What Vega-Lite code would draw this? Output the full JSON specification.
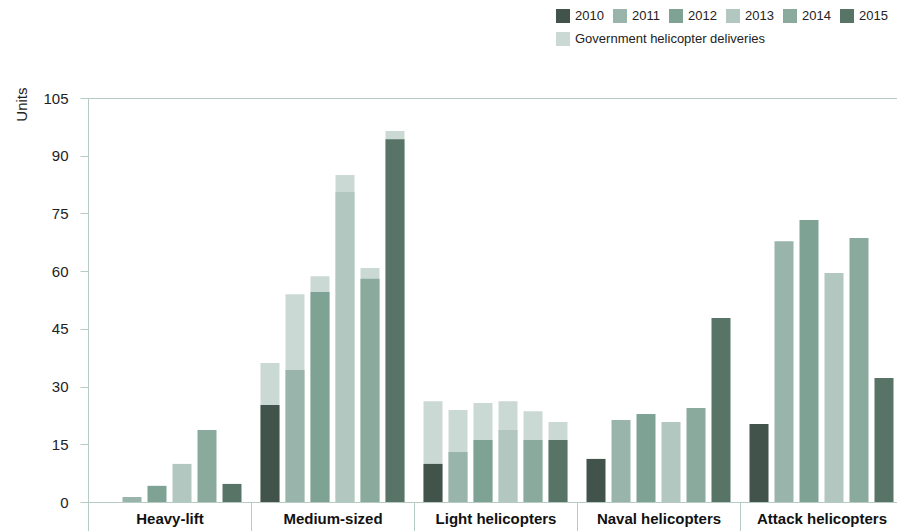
{
  "$schema": "https://vega.github.io/schema/vega-lite/v6.json",
  "width": 815,
  "height": 404,
  "autosize": {"type": "none"},
  "padding": {"left": 88, "top": 98, "right": 0, "bottom": 29},
  "config": {
    "font": "Liberation Sans",
    "view": {"stroke": "#b5cbc3", "strokeWidth": 1}
  },
  "data": {
    "values": [
      {"category": "Heavy-lift", "year": "2010", "value": 0, "total": null},
      {"category": "Heavy-lift", "year": "2011", "value": 1.3, "total": null},
      {"category": "Heavy-lift", "year": "2012", "value": 4.2, "total": null},
      {"category": "Heavy-lift", "year": "2013", "value": 9.9, "total": null},
      {"category": "Heavy-lift", "year": "2014", "value": 18.7, "total": null},
      {"category": "Heavy-lift", "year": "2015", "value": 4.7, "total": null},
      {"category": "Medium-sized", "year": "2010", "value": 25.2, "total": 36.1},
      {"category": "Medium-sized", "year": "2011", "value": 34.3, "total": 54.0},
      {"category": "Medium-sized", "year": "2012", "value": 54.6, "total": 58.7},
      {"category": "Medium-sized", "year": "2013", "value": 80.6, "total": 85.0},
      {"category": "Medium-sized", "year": "2014", "value": 58.0, "total": 60.8},
      {"category": "Medium-sized", "year": "2015", "value": 94.3, "total": 96.4},
      {"category": "Light helicopters", "year": "2010", "value": 9.9, "total": 26.2},
      {"category": "Light helicopters", "year": "2011", "value": 13.0, "total": 23.9},
      {"category": "Light helicopters", "year": "2012", "value": 16.1, "total": 25.7},
      {"category": "Light helicopters", "year": "2013", "value": 18.7, "total": 26.2},
      {"category": "Light helicopters", "year": "2014", "value": 16.1, "total": 23.6},
      {"category": "Light helicopters", "year": "2015", "value": 16.1, "total": 20.8},
      {"category": "Naval helicopters", "year": "2010", "value": 11.2, "total": null},
      {"category": "Naval helicopters", "year": "2011", "value": 21.3, "total": null},
      {"category": "Naval helicopters", "year": "2012", "value": 22.9, "total": null},
      {"category": "Naval helicopters", "year": "2013", "value": 20.8, "total": null},
      {"category": "Naval helicopters", "year": "2014", "value": 24.4, "total": null},
      {"category": "Naval helicopters", "year": "2015", "value": 47.8, "total": null},
      {"category": "Attack helicopters", "year": "2010", "value": 20.3, "total": null},
      {"category": "Attack helicopters", "year": "2011", "value": 67.8, "total": null},
      {"category": "Attack helicopters", "year": "2012", "value": 73.3, "total": null},
      {"category": "Attack helicopters", "year": "2013", "value": 59.5, "total": null},
      {"category": "Attack helicopters", "year": "2014", "value": 68.6, "total": null},
      {"category": "Attack helicopters", "year": "2015", "value": 32.2, "total": null}
    ]
  },
  "encoding": {
    "x": {
      "field": "category",
      "type": "nominal",
      "sort": ["Heavy-lift", "Medium-sized", "Light helicopters", "Naval helicopters", "Attack helicopters"],
      "scale": {"paddingInner": 0, "paddingOuter": 0},
      "axis": {
        "title": null,
        "labelAngle": 0,
        "labelFontSize": 15,
        "labelFontWeight": "bold",
        "labelColor": "#111111",
        "labelPadding": -20,
        "tickBand": "extent",
        "tickSize": 29,
        "tickColor": "#b5cbc3",
        "domainColor": "#b5cbc3"
      }
    },
    "xOffset": {
      "field": "year",
      "type": "nominal",
      "scale": {"paddingInner": 0.24, "paddingOuter": 0.38}
    }
  },
  "layer": [
    {
      "transform": [{"filter": "datum.total != null"}],
      "mark": {"type": "bar"},
      "encoding": {
        "y": {
          "field": "total",
          "type": "quantitative",
          "scale": {"domain": [0, 105], "nice": false},
          "axis": {
            "values": [0, 15, 30, 45, 60, 75, 90, 105],
            "grid": false,
            "domainColor": "#b5cbc3",
            "tickColor": "#b5cbc3",
            "tickSize": 8,
            "labelPadding": 12,
            "labelFontSize": 15,
            "labelColor": "#222222",
            "title": "Units",
            "titleFontSize": 15,
            "titleFontWeight": "normal",
            "titleColor": "#222222",
            "titleAlign": "right",
            "titleBaseline": "middle",
            "titleX": -67,
            "titleY": -11
          }
        },
        "fill": {
          "datum": "Government helicopter deliveries",
          "type": "nominal",
          "scale": {"range": ["#cbd9d4"]},
          "legend": {
            "title": null,
            "orient": "none",
            "legendX": 468,
            "legendY": -66,
            "symbolType": "square",
            "symbolSize": 196,
            "symbolStrokeWidth": 0,
            "labelFontSize": 13,
            "labelColor": "#222222",
            "labelOffset": 5,
            "padding": 0,
            "labelLimit": 400
          }
        }
      }
    },
    {
      "mark": {"type": "bar"},
      "encoding": {
        "y": {
          "field": "value",
          "type": "quantitative",
          "scale": {"domain": [0, 105], "nice": false},
          "axis": {
            "values": [0, 15, 30, 45, 60, 75, 90, 105],
            "grid": false,
            "domainColor": "#b5cbc3",
            "tickColor": "#b5cbc3",
            "tickSize": 8,
            "labelPadding": 12,
            "labelFontSize": 15,
            "labelColor": "#222222",
            "title": "Units",
            "titleFontSize": 15,
            "titleFontWeight": "normal",
            "titleColor": "#222222",
            "titleAlign": "right",
            "titleBaseline": "middle",
            "titleX": -67,
            "titleY": -11
          }
        },
        "color": {
          "field": "year",
          "type": "nominal",
          "scale": {
            "domain": ["2010", "2011", "2012", "2013", "2014", "2015"],
            "range": ["#41534b", "#99b4aa", "#7ea294", "#b1c7bf", "#8aaa9d", "#587467"]
          },
          "legend": {
            "title": null,
            "orient": "none",
            "legendX": 468,
            "legendY": -89,
            "direction": "horizontal",
            "symbolType": "square",
            "symbolSize": 196,
            "symbolStrokeWidth": 0,
            "labelFontSize": 13,
            "labelColor": "#222222",
            "labelOffset": 5,
            "columnPadding": 9,
            "padding": 0
          }
        }
      }
    }
  ]
}
